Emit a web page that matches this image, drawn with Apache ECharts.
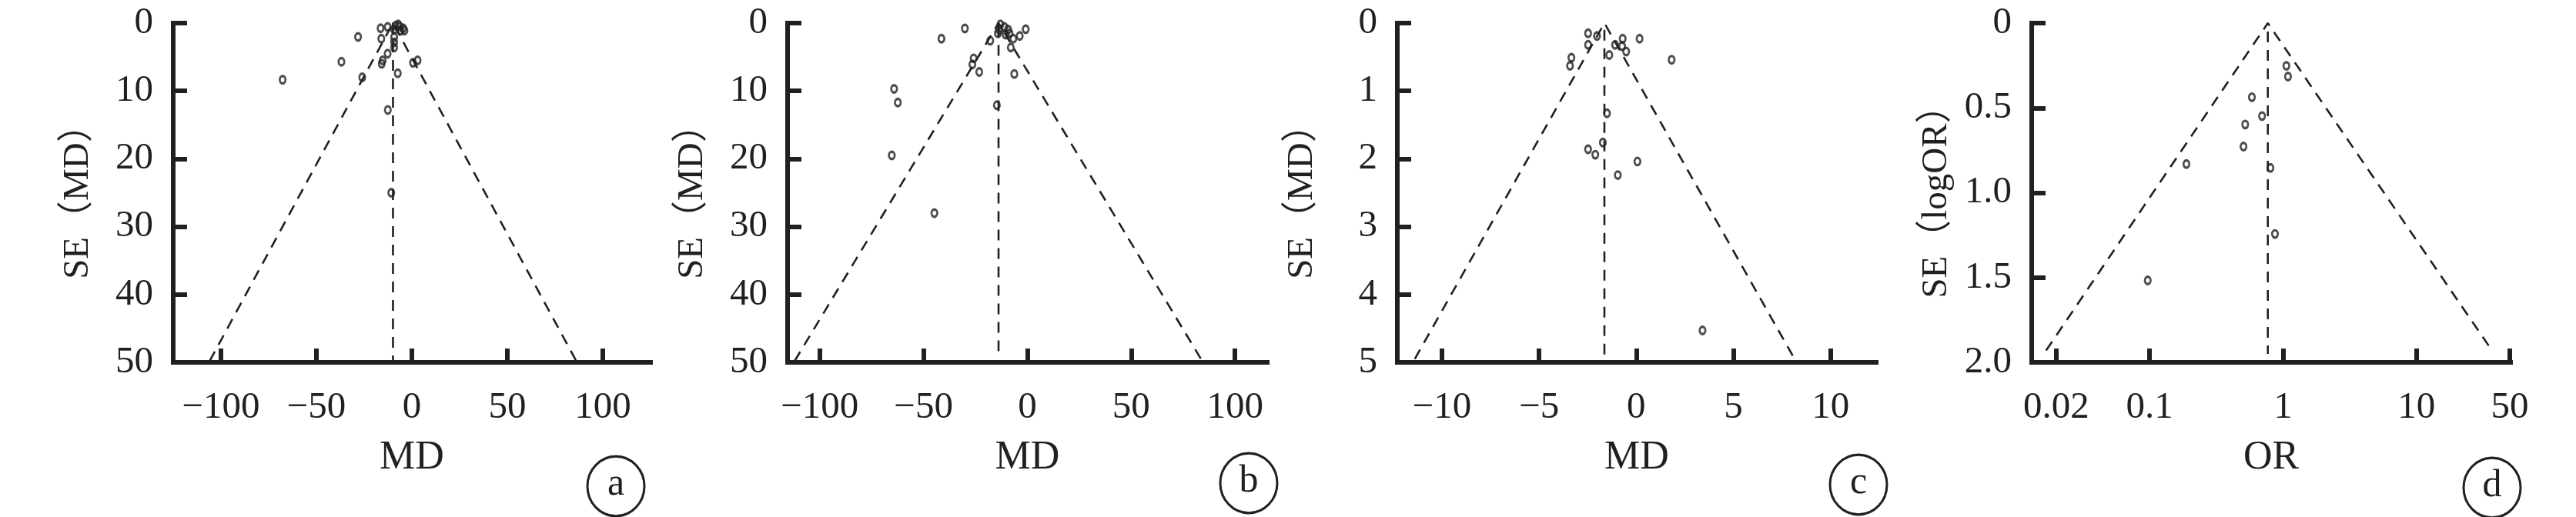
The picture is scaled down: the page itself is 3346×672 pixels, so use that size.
<!DOCTYPE html>
<html>
<head>
<meta charset="utf-8">
<script src="https://cdn.jsdelivr.net/npm/echarts@6/dist/echarts.min.js"></script>
<style>
html,body{margin:0;padding:0;background:#fff;}
#chart{width:3346px;height:672px;}
</style>
</head>
<body>
<div id="chart"></div>
<script>
// ---------- data ----------
const seriesA_MD = [-67.7, -36.9, -28.2, -26.0, -16.4, -12.7, -8.6, -7.2, -9.3, -5.9, -3.9, -4.6, -6.5, -16.0, -9.3, -9.3, -9.3, -12.7, -15.3, -15.8, -12.6, -10.8, -7.4, 0.6, 3.0];
const seriesA_SE = [8.35, 5.7, 2.04, 8.0, 0.76, 0.57, 0.38, 0.2, 0.95, 1.13, 1.1, 0.76, 0.5, 2.3, 2.08, 2.83, 3.6, 4.5, 5.5, 6.0, 12.8, 25.0, 7.4, 5.85, 5.5];

const seriesB_MD = [-30.1, -41.4, -64.2, -62.4, -65.3, -44.8, -17.9, -25.9, -26.5, -23.2, -14.7, -6.3, -8.0, -3.7, -0.8, -13.0, -13.6, -11.1, -9.3, -8.6, -10.5, -14.2, -6.8];
const seriesB_SE = [0.8, 2.3, 9.7, 11.7, 19.5, 28.0, 2.6, 5.2, 6.1, 7.2, 12.1, 7.5, 3.6, 1.9, 0.9, 0.2, 0.95, 0.57, 0.95, 1.5, 1.7, 1.5, 2.3];

const seriesC_MD = [-2.48, -2.02, -2.48, -3.34, -3.41, -1.39, -1.09, -0.70, -0.73, -0.52, 0.17, 1.82, -1.51, -1.72, -2.48, -2.11, 0.06, -0.95, 3.41];
const seriesC_SE = [0.15, 0.19, 0.32, 0.51, 0.63, 0.47, 0.32, 0.23, 0.34, 0.42, 0.23, 0.54, 1.33, 1.76, 1.86, 1.94, 2.04, 2.24, 4.53];

const seriesD_OR = [1.06, 1.09, 0.585, 0.697, 0.521, 0.506, 0.189, 0.805, 0.871, 0.097];
const seriesD_SE = [0.252, 0.315, 0.437, 0.548, 0.598, 0.728, 0.831, 0.854, 1.243, 1.517];

// funnel limits (left bottom, apex, right bottom) and pooled-estimate line
const funnelA = [[-105.9, 49.8], [-9.9, 0], [86.1, 49.8]];
const pooledA = [[-9.9, 0], [-9.9, 50]];
const funnelB = [[-112.1, 49.8], [-13.9, 0], [84.2, 49.8]];
const pooledB = [[-13.9, 0.5], [-13.9, 49]];
const funnelC = [[-11.4, 4.95], [-1.64, 0], [8.15, 4.95]];
const pooledC = [[-1.64, 0.1], [-1.64, 4.9]];
const funnelD = [[0.0168, 1.93], [0.77, 0], [36.8, 1.93]];
const pooledD = [[0.77, 0.05], [0.77, 1.95]];

// axis ticks
const xTicksAB = [-100, -50, 0, 50, 100];
const xTicksC = [-10, -5, 0, 5, 10];
const xTicksD = [0.02, 0.1, 1, 10, 50];
const xTickLabelsD = ['0.02', '0.1', '1', '10', '50'];
const yTicksMD = [0, 10, 20, 30, 40, 50];
const yTicksC = [0, 1, 2, 3, 4, 5];
const yTicksD = [0, 0.5, 1.0, 1.5, 2.0];
const yTickLabelsD = ['0', '0.5', '1.0', '1.5', '2.0'];

const xNames = ['MD', 'MD', 'MD', 'OR'];
const yNames = ['SE（MD）', 'SE（MD）', 'SE（MD）', 'SE（logOR）'];
const panelTags = ['a', 'b', 'c', 'd'];

// ---------- layout / style ----------
const INK = '#231f20';
const FONT = '"Liberation Serif", "Times New Roman", "Noto Sans CJK SC", serif';
const grids = [
  {left: 225, top: 30, width: 620, height: 441},
  {left: 1023, top: 30, width: 623, height: 441},
  {left: 1815, top: 30, width: 622, height: 441},
  {left: 2639, top: 30, width: 622, height: 441}
];
const xRanges = [[-125, 125], [-115.5, 115.5], [-12.3, 12.35], [0.0131, 50.7]];
const yMax = [50, 50, 5, 2];
const tagCenters = [[800, 632], [1622, 628], [2414, 630], [3237, 634]];

function minus(v) { return String(v).replace('-', '\u2212'); }

const axisLineStyle = {color: INK, width: 6, cap: 'square'};
const tickStyle = {color: INK, width: 6};
const labelStyle = {fontFamily: FONT, fontSize: 49, color: INK};

const xAxes = [0, 1, 2, 3].map(i => {
  const ticks = i < 2 ? xTicksAB : (i === 2 ? xTicksC : xTicksD);
  const ax = {
    type: i === 3 ? 'log' : 'value',
    gridIndex: i,
    min: xRanges[i][0],
    max: xRanges[i][1],
    axisLine: {show: true, onZero: false, lineStyle: axisLineStyle},
    axisTick: {show: true, inside: true, length: 18, customValues: ticks, lineStyle: tickStyle},
    axisLabel: Object.assign({
      margin: 35,
      customValues: ticks,
      formatter: i === 3
        ? (v => { let best = 0; xTicksD.forEach((t, k) => { if (Math.abs(Math.log10(t) - Math.log10(v)) < Math.abs(Math.log10(xTicksD[best]) - Math.log10(v))) best = k; }); return xTickLabelsD[best]; })
        : (v => minus(v))
    }, labelStyle),
    splitLine: {show: false},
    minorTick: {show: false},
    name: xNames[i],
    nameLocation: 'middle',
    nameGap: 98,
    nameTextStyle: {fontFamily: FONT, fontSize: 52, color: INK}
  };
  if (i === 3) ax.logBase = 10;
  return ax;
});

const yAxes = [0, 1, 2, 3].map(i => {
  const ticks = i < 2 ? yTicksMD : (i === 2 ? yTicksC : yTicksD);
  return {
    type: 'value',
    gridIndex: i,
    inverse: true,
    min: 0,
    max: yMax[i],
    axisLine: {show: true, onZero: false, lineStyle: axisLineStyle},
    axisTick: {show: true, inside: true, length: 18, customValues: ticks, lineStyle: tickStyle},
    axisLabel: Object.assign({
      margin: 26,
      customValues: ticks,
      formatter: i === 3 ? (v => { const k = yTicksD.findIndex(t => Math.abs(t - v) < 1e-6); return k >= 0 ? yTickLabelsD[k] : String(v); }) : (v => String(v))
    }, labelStyle),
    splitLine: {show: false},
    name: yNames[i],
    nameLocation: 'middle',
    nameRotate: 90,
    nameGap: 100,
    nameTextStyle: {fontFamily: FONT, fontSize: 47, color: INK}
  };
});

function zip(xs, ys) { return xs.map((x, k) => [x, ys[k]]); }
const points = [zip(seriesA_MD, seriesA_SE), zip(seriesB_MD, seriesB_SE), zip(seriesC_MD, seriesC_SE), zip(seriesD_OR, seriesD_SE)];
const funnels = [funnelA, funnelB, funnelC, funnelD];
const pooled = [pooledA, pooledB, pooledC, pooledD];

// open marker: a slightly tall ellipse
const ELLIPSE = 'path://M0,10A10,10 0 1,0 20,10A10,10 0 1,0 0,10Z';

const dashStyle = {color: INK, width: 2.6, type: [14, 10]};
const series = [];
for (let i = 0; i < 4; i++) {
  series.push({type: 'line', xAxisIndex: i, yAxisIndex: i, data: funnels[i], symbol: 'none', silent: true, lineStyle: dashStyle, z: 2});
  series.push({type: 'line', xAxisIndex: i, yAxisIndex: i, data: pooled[i], symbol: 'none', silent: true, lineStyle: dashStyle, z: 2});
  series.push({
    type: 'scatter', xAxisIndex: i, yAxisIndex: i, data: points[i],
    symbol: ELLIPSE, symbolSize: [7.5, 9.5], symbolKeepAspect: false, silent: true,
    itemStyle: {color: 'rgba(0,0,0,0)', borderColor: INK, borderWidth: 3},
    z: 5
  });
}

const graphic = [];
for (let i = 0; i < 4; i++) {
  graphic.push({
    type: 'circle', x: tagCenters[i][0], y: tagCenters[i][1], scaleY: 1.05,
    shape: {cx: 0, cy: 0, r: 37},
    style: {fill: 'none', stroke: INK, lineWidth: 3}
  });
  graphic.push({
    type: 'text', x: tagCenters[i][0], y: tagCenters[i][1] - 2,
    style: {text: panelTags[i], fontFamily: FONT, fontSize: 50, fill: INK, textAlign: 'center', textVerticalAlign: 'middle'}
  });
}

const chart = echarts.init(document.getElementById('chart'), null, {renderer: 'canvas'});
chart.setOption({
  backgroundColor: '#ffffff',
  animation: false,
  grid: grids,
  xAxis: xAxes,
  yAxis: yAxes,
  series: series,
  graphic: graphic
});
</script>
</body>
</html>
